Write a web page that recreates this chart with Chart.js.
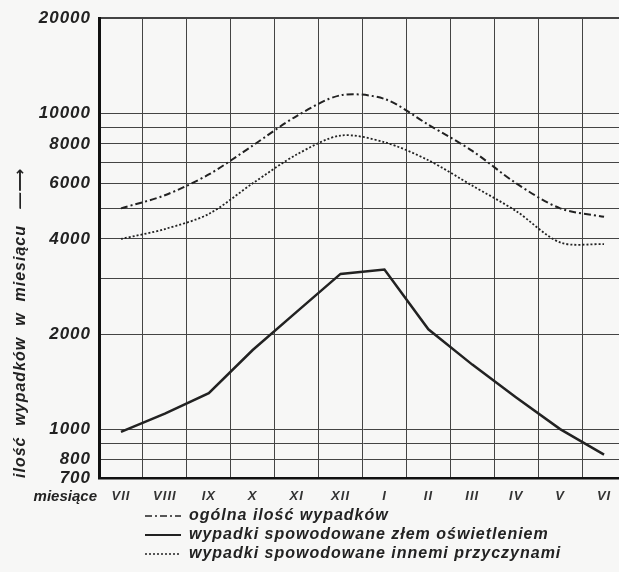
<!DOCTYPE html>
<html>
<head>
<meta charset="utf-8">
<script src="https://cdn.jsdelivr.net/npm/chart.js@4.4.1/dist/chart.umd.min.js"></script>
<style>
  html, body { margin: 0; padding: 0; overflow: hidden; background: #f7f7f6; }
  #wrap { position: absolute; left: 0; top: 0; width: 640px; height: 572px; }
</style>
</head>
<body>
<div id="wrap"><canvas id="chart" width="640" height="572"></canvas></div>
<script>
// miesiące od lipca do czerwca
const months = ['VII', 'VIII', 'IX', 'X', 'XI', 'XII', 'I', 'II', 'III', 'IV', 'V', 'VI'];

// ilość wypadków w miesiącu
const ogolna = [5000, 5500, 6400, 7900, 9800, 11400, 11100, 9200, 7600, 6000, 5000, 4700];
const zlemOswietleniem = [980, 1120, 1300, 1780, 2350, 3100, 3200, 2070, 1600, 1260, 1000, 830];
const innemiPrzyczynami = [4000, 4300, 4800, 6000, 7400, 8500, 8100, 7100, 5900, 4900, 3900, 3850];

// linie siatki i opisy osi y
const gridValues = [700, 800, 900, 1000, 2000, 3000, 4000, 5000, 6000, 7000, 8000, 9000, 10000, 20000];
const yLabels = [700, 800, 1000, 2000, 4000, 6000, 8000, 10000, 20000];

const ink = '#222';
const fontFamily = '"Liberation Sans", "DejaVu Sans", sans-serif';

// rozstrzelone litery jak w oryginale
const spacing = {
  id: 'spacing',
  beforeDraw(chart) {
    chart.ctx.letterSpacing = '1px';
    if (chart.legend) {
      chart.legend.left = 142;
      chart.legend.right = 142 + 527;
    }
  },
  afterDatasetsDraw(chart) {
    chart.ctx.letterSpacing = '3px';
  },
  afterDraw(chart) {
    const ctx = chart.ctx;
    ctx.save();
    ctx.letterSpacing = '0px';
    ctx.font = 'italic bold 15px ' + fontFamily;
    ctx.fillStyle = ink;
    ctx.textAlign = 'right';
    ctx.textBaseline = 'middle';
    ctx.fillText('miesiące', 97, 497);
    ctx.restore();
    ctx.letterSpacing = '0px';
  }
};

new Chart(document.getElementById('chart').getContext('2d'), {
  type: 'line',
  data: {
    labels: months,
    datasets: [
      {
        label: 'ogólna ilość wypadków',
        data: ogolna,
        borderColor: ink,
        borderWidth: 2,
        borderDash: [7, 3, 2, 3],
        pointRadius: 0,
        tension: 0.3,
        fill: false
      },
      {
        label: 'wypadki spowodowane złem oświetleniem',
        data: zlemOswietleniem,
        borderColor: ink,
        borderWidth: 2.5,
        pointRadius: 0,
        tension: 0,
        fill: false
      },
      {
        label: 'wypadki spowodowane innemi przyczynami',
        data: innemiPrzyczynami,
        borderColor: ink,
        borderWidth: 1.8,
        borderDash: [2, 2],
        pointRadius: 0,
        tension: 0.3,
        fill: false
      }
    ]
  },
  options: {
    responsive: false,
    animation: false,
    devicePixelRatio: 1,
    layout: { padding: { left: 0, top: 15, right: 14, bottom: 0 } },
    plugins: {
      tooltip: { enabled: false },
      legend: {
        position: 'bottom',
        align: 'start',
        fullSize: false,
        z: 1,
        labels: {
          usePointStyle: true,
          pointStyle: 'line',
          pointStyleWidth: 36,
          boxHeight: 15,
          padding: 3,
          color: ink,
          font: { family: fontFamily, size: 16, style: 'italic', weight: 'bold' },
          generateLabels(chart) {
            const items = Chart.defaults.plugins.legend.labels.generateLabels(chart);
            items.forEach((item, i) => {
              const ds = chart.data.datasets[i];
              item.lineDash = ds.borderDash || [];
              item.lineWidth = i === 1 ? 2 : 1.5;
              item.strokeStyle = ds.borderColor;
            });
            return items;
          }
        }
      }
    },
    scales: {
      x: {
        type: 'category',
        offset: true,
        grid: { offset: true, color: '#444', lineWidth: 1, drawTicks: false },
        border: { color: '#111', width: 2.5 },
        ticks: {
          color: '#333',
          padding: 11,
          maxRotation: 0,
          autoSkip: false,
          font: { family: fontFamily, size: 13, style: 'italic', weight: 'bold' }
        },
        afterFit(scale) { scale.height = 27; }
      },
      y: {
        type: 'logarithmic',
        min: 700,
        max: 20000,
        afterBuildTicks(scale) {
          scale.ticks = gridValues.map(v => ({ value: v }));
        },
        afterFit(scale) { scale.width = 99; },
        grid: {
          color: '#444',
          lineWidth: ctx => (ctx.tick && ctx.tick.value === 20000 ? 2 : 1),
          drawTicks: false
        },
        border: { color: '#111', width: 3 },
        ticks: {
          color: ink,
          padding: 8,
          autoSkip: false,
          font: { family: fontFamily, size: 17, style: 'italic', weight: 'bold' },
          callback: v => (yLabels.includes(v) ? String(v) : '')
        },
        title: {
          display: true,
          text: 'ilość  wypadków  w  miesiącu   —⟶',
          align: 'start',
          color: ink,
          padding: { top: 11, bottom: 0 },
          font: { family: fontFamily, size: 16, style: 'italic', weight: 'bold' }
        }
      }
    }
  },
  plugins: [spacing]
});
</script>
</body>
</html>
